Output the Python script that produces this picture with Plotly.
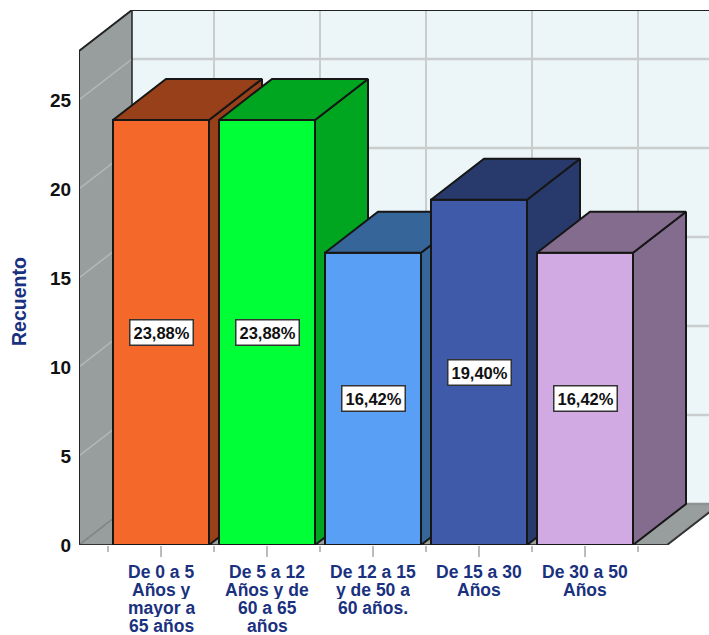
import plotly.graph_objects as go

categories = [
    ["De 0 a 5", "Años y", "mayor a", "65 años"],
    ["De 5 a 12", "Años y de", "60 a 65", "años"],
    ["De 12 a 15", "y de 50 a", "60 años."],
    ["De 15 a 30", "Años"],
    ["De 30 a 50", "Años"],
]
values = [23.88, 23.88, 16.42, 19.40, 16.42]
labels = ["23,88%", "23,88%", "16,42%", "19,40%", "16,42%"]
front_colors = ["#f4682a", "#00ff36", "#589ff5", "#3f5aa9", "#d1a9e3"]
shade_colors = ["#97401a", "#00a520", "#366599", "#28396b", "#846c8e"]
y_ticks = [0, 5, 10, 15, 20, 25]

W, H = 709, 635
L, R, T, B = 79, 709, 10, 545      # plot area in pixels
PX_X, PX_Y = 106.0, 17.8           # pixels per category / per unit
X0 = 161                           # pixel of the first category
xr = [(L - X0) / PX_X, (R - X0) / PX_X]
yr = [0, (B - T) / PX_Y]
DX, DY = 53 / PX_X, 41 / PX_Y      # depth offset in data units
BW = 96 / PX_X                     # bar width
x_left = xr[0]
x_right = (667 - X0) / PX_X
y_top = (B - 51) / PX_Y
EDGE = "#161616"
WALL = "#989e9e"
BACK = "#ecf5f7"

fig = go.Figure()


def poly(xs, ys, fill, line=EDGE, width=2, xa="x", ya="y"):
    fig.add_trace(go.Scatter(x=xs + xs[:1], y=ys + ys[:1], mode="lines", fill="toself",
                             fillcolor=fill, line=dict(color=line, width=width),
                             xaxis=xa, yaxis=ya, cliponaxis=False, hoverinfo="skip"))


def seg(xs, ys, color, width):
    fig.add_trace(go.Scatter(x=xs, y=ys, mode="lines", line=dict(color=color, width=width),
                             cliponaxis=False, hoverinfo="skip"))


# back wall, left wall and floor
bx0, bx1 = x_left + DX, x_right + DX
poly([bx0, bx1, bx1, bx0], [DY, DY, y_top + DY, y_top + DY], BACK, line=BACK, width=0)
poly([x_left, bx0, bx0, x_left], [0, DY, y_top + DY, y_top], WALL, width=0, line=WALL)
poly([x_left, x_right, bx1, bx0], [0, 0, DY, DY], WALL, width=0, line=WALL)

# gridlines on the walls
for v in y_ticks:
    seg([bx0, bx1], [v + DY, v + DY], "#c9cdcd" if v else "#8e9292", 2.5)
    seg([x_left, bx0], [v, v + DY], "#b4b8b8" if v else "#7f8383", 1.5)
for i in range(len(values)):
    seg([i + DX, i + DX], [DY, y_top + DY], "#c9cdcd", 2)

# outlines of the walls
seg([bx0, bx0], [DY, y_top + DY], "#222222", 1.5)
seg([x_left, x_left, bx0, bx1], [0, y_top, y_top + DY, y_top + DY], "#222222", 2)
seg([x_left, x_right, bx1], [0, 0, DY], "#333333", 2)

# bars, each one in its own overlay so that they paint left to right
for i, (v, fc, sc) in enumerate(zip(values, front_colors, shade_colors)):
    n = i + 2
    xa, ya = f"x{n}", f"y{n}"
    fig.add_trace(go.Bar(x=[i], y=[v], width=BW, marker=dict(color=fc, line=dict(color=EDGE, width=2)),
                         xaxis=xa, yaxis=ya, hovertemplate="%{y}<extra></extra>"))
    l, r = i - BW / 2, i + BW / 2
    poly([r, r + DX, r + DX, r], [0, DY, v + DY, v], sc, xa=xa, ya=ya)
    poly([l, r, r + DX, l + DX], [v, v, v + DY, v + DY], sc, xa=xa, ya=ya)
    fig.layout[f"xaxis{n}"] = dict(overlaying="x", range=xr, visible=False, fixedrange=True)
    fig.layout[f"yaxis{n}"] = dict(overlaying="y", range=yr, visible=False, fixedrange=True)

annotations = []
for i, (v, t) in enumerate(zip(values, labels)):
    annotations.append(dict(x=i, y=v / 2, xref="x", yref="y", text=t, showarrow=False,
                            font=dict(family="Liberation Sans", size=16.5, color="#111111", weight="bold"),
                            bgcolor="white", bordercolor="#333333", borderwidth=1.5, borderpad=3))
for i, lines in enumerate(categories):
    for k, line in enumerate(lines):
        annotations.append(dict(x=i, y=0, xref="x", yref="y", text=line, showarrow=False,
                                yanchor="middle", yshift=-(27 + 18 * k), height=18, borderpad=0,
                                font=dict(family="Liberation Sans", size=17.5, color="#1a3180", weight="bold")))
annotations.append(dict(x=(19 - L) / (R - L), y=(B - 302) / (B - T), xref="paper", yref="paper", text="Recuento",
                        textangle=-90, showarrow=False, xanchor="center", yanchor="middle",
                        font=dict(family="Liberation Sans", size=19.5, color="#1a3180", weight="bold")))

fig.update_layout(
    width=W, height=H, autosize=False,
    margin=dict(l=L, r=W - R, t=T, b=H - B, pad=0),
    paper_bgcolor="white", plot_bgcolor="white", showlegend=False,
    annotations=annotations,
    xaxis=dict(range=xr, fixedrange=True, showgrid=False, zeroline=False, showline=False,
               tickmode="array", tickvals=list(range(len(values))), showticklabels=False,
               ticks="outside", ticklen=11, tickwidth=2, tickcolor="#bcbcbc",
               minor=dict(tickmode="array", tickvals=[i - 0.5 for i in range(len(values) + 1)],
                          ticks="outside", ticklen=6, tickwidth=2, tickcolor="#bcbcbc", showgrid=False)),
    yaxis=dict(range=yr, fixedrange=True, showgrid=False, zeroline=False, showline=False,
               tickmode="array", tickvals=y_ticks, ticktext=[str(v) for v in y_ticks],
               ticks="outside", ticklen=3, tickcolor="rgba(0,0,0,0)",
               tickfont=dict(family="Liberation Sans", size=19, color="#111111", weight="bold")),
)

fig.write_html("out.html", config=dict(displayModeBar=False),
               post_script="document.body.style.margin='0';document.documentElement.style.overflow='hidden';")
